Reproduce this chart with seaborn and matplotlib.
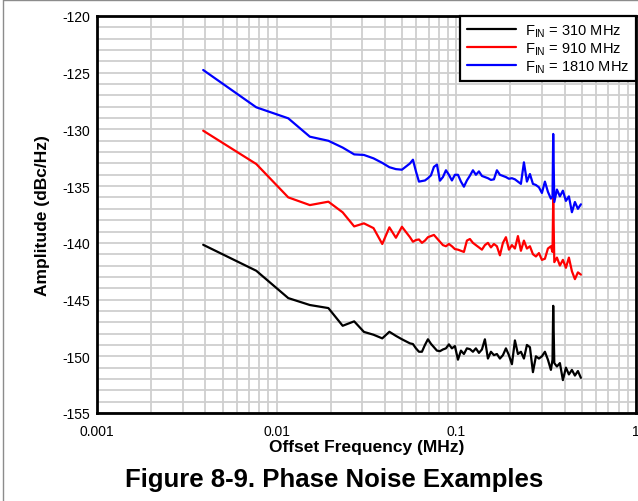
import numpy as np
import pandas as pd
import matplotlib
matplotlib.use("Agg")
import matplotlib.pyplot as plt
from matplotlib.lines import Line2D
from matplotlib.ticker import LogLocator, MultipleLocator, FixedLocator, FixedFormatter, NullFormatter
import seaborn as sns

# Offset frequency (MHz), shared by all three traces
freq = [
    0.0039, 0.0077, 0.0116, 0.0153, 0.0194, 0.0233, 0.0270, 0.0306, 0.0346, 0.0387, 0.0424, 0.0461, 0.0498,
    0.05518, 0.05734, 0.05960, 0.06193, 0.06435, 0.06688, 0.06950, 0.07222, 0.07505, 0.07798,
    0.08104, 0.08421, 0.08751, 0.09094, 0.09450, 0.09820, 0.1021, 0.1061, 0.1102, 0.1145,
    0.1190, 0.1237, 0.1285, 0.1336, 0.1388, 0.1442, 0.1499, 0.1558, 0.1619, 0.1682,
    0.1748, 0.1817, 0.1888, 0.1962, 0.2039, 0.2119, 0.2202, 0.2288, 0.2378, 0.2471,
    0.2568, 0.2669, 0.2773, 0.2882, 0.2994, 0.3112, 0.3234, 0.3360,
    0.343, 0.3461, 0.351,
    0.3629, 0.3771, 0.3918, 0.4073, 0.4232, 0.4398, 0.4571, 0.4750, 0.4935,
]

# Amplitude (dBc/Hz) for each input frequency
amp_310 = [
    -140.17, -142.46, -144.87, -145.48, -145.75, -147.31, -146.92, -147.85, -148.1, -148.42, -147.84, -148.2, -148.5,
    -148.86, -148.92, -149.3, -149.6, -149.6, -149.0, -148.5, -148.9, -149.2, -149.5,
    -149.55, -149.4, -149.3, -148.95, -149.3, -149.1, -150.3, -149.5, -149.8, -149.3,
    -149.37, -149.6, -149.3, -149.7, -149.4, -148.5, -150.2, -149.6, -149.9, -149.8,
    -150.2, -149.9, -149.3, -149.9, -150.7, -148.6, -149.8, -149.6, -150.2, -149.0,
    -149.2, -151.4, -150.0, -150.2, -150.0, -149.6, -150.3, -151.2,
    -150.3, -145.55, -150.6,
    -150.9, -150.6, -152.1, -151.0, -151.6, -151.2, -151.7, -151.3, -151.9,
]
amp_910 = [
    -130.11, -133.05, -135.99, -136.67, -136.37, -137.31, -138.55, -138.28, -138.7, -140.1, -138.63, -139.55, -138.58,
    -139.5, -139.9, -139.75, -139.7, -140.0, -139.8, -139.5, -139.4, -139.3, -139.6,
    -139.9, -140.2, -140.3, -140.1, -140.3, -140.55, -140.6, -140.7, -140.8, -139.8,
    -139.66, -140.0, -140.2, -140.4, -140.6, -140.2, -140.0, -140.4, -140.1, -140.3,
    -141.1, -140.0, -139.5, -140.6, -140.2, -140.5, -139.4, -140.7, -139.8, -140.5,
    -140.3, -141.0, -141.2, -140.9, -141.5, -141.4, -140.5, -140.3,
    -140.8, -136.1, -141.7,
    -141.3, -142.0, -141.5, -142.2, -141.3, -142.5, -143.2, -142.6, -142.8,
]
amp_1810 = [
    -124.76, -128.05, -129.02, -130.64, -131.0, -131.6, -132.2, -132.25, -132.55, -132.95, -133.33, -133.5, -133.55,
    -133.0, -132.67, -133.7, -134.6, -134.55, -134.5, -134.3, -134.05, -133.3, -133.1,
    -134.52, -134.2, -133.6, -134.0, -134.5, -134.0, -134.0, -134.6, -135.05, -134.5,
    -134.08, -133.6, -134.0, -133.7, -134.1, -134.2, -134.3, -134.45, -134.4, -133.6,
    -134.0, -134.1, -134.2, -134.35, -134.3, -134.4, -134.6, -134.8, -132.9, -134.6,
    -133.93, -134.8, -134.9, -135.1, -135.6, -134.6, -135.5, -136.1,
    -135.9, -130.4, -136.4,
    -135.3, -135.9, -135.4, -136.3, -135.9, -137.3, -136.4, -137.0, -136.6,
]

series_names = ["310", "910", "1810"]
series_colors = ["black", "red", "blue"]
legend_labels = [r"F$_{\mathrm{IN}}$ = %s MHz" % s for s in series_names]

df = pd.concat(
    [
        pd.DataFrame({"freq": freq, "amp": a, "fin": name})
        for name, a in zip(series_names, [amp_310, amp_910, amp_1810])
    ],
    ignore_index=True,
)

sns.set_theme(style="white")
plt.rcParams["font.family"] = ["Liberation Sans", "DejaVu Sans"]
plt.rcParams["mathtext.fontset"] = "custom"
plt.rcParams["mathtext.rm"] = "Liberation Sans"
plt.rcParams["mathtext.it"] = "Liberation Sans:italic"
plt.rcParams["mathtext.bf"] = "Liberation Sans:bold"
plt.rcParams["axes.unicode_minus"] = False
plt.rcParams["text.color"] = "black"
plt.rcParams["axes.labelcolor"] = "black"

fig = plt.figure(figsize=(6.38, 5.02), dpi=100)
ax = fig.add_axes([97 / 638, 88 / 502, 539 / 638, 397 / 502])

sns.lineplot(
    data=df, x="freq", y="amp", hue="fin", palette=series_colors,
    hue_order=series_names, sort=False, linewidth=1.6, ax=ax, legend=False,
)

ax.set_xscale("log")
ax.set_xlim(0.001, 1)
ax.set_ylim(-155, -120)

ax.xaxis.set_major_locator(FixedLocator([0.001, 0.01, 0.1, 1]))
ax.xaxis.set_major_formatter(FixedFormatter(["0.001", "0.01", "0.1", "1"]))
ax.xaxis.set_minor_locator(LogLocator(base=10, subs=np.arange(2, 10)))
ax.xaxis.set_minor_formatter(NullFormatter())
ax.yaxis.set_major_locator(MultipleLocator(5))
ax.yaxis.set_minor_locator(MultipleLocator(1))

ax.grid(True, which="both", color="#cfcfcf", linewidth=1.3)
ax.set_axisbelow(True)
for s in ax.spines.values():
    s.set_color("black")
    s.set_linewidth(2)

ax.tick_params(axis="both", which="both", length=0, labelsize=10, colors="black")
ax.tick_params(axis="x", pad=8)
ax.tick_params(axis="y", pad=5)

ax.set_xlabel("Offset Frequency (MHz)", fontsize=12.5, fontweight="bold", labelpad=1)
ax.set_ylabel("Amplitude (dBc/Hz)", fontsize=12.5, fontweight="bold", labelpad=9)

handles = [Line2D([0], [0], color=c, linewidth=1.6) for c in series_colors]
leg = ax.legend(
    handles, legend_labels, loc="upper right", fontsize=10.5, frameon=True,
    fancybox=False, handlelength=3.4, handletextpad=0.6, labelspacing=0.1,
    borderpad=0.45, borderaxespad=0,
)
leg.get_frame().set_edgecolor("black")
leg.get_frame().set_linewidth(1.6)
leg.get_frame().set_alpha(1)

fig.text(0.524, 0.043, "Figure 8-9. Phase Noise Examples", ha="center", va="center",
         fontsize=18.5, fontweight="bold", color="black")

# thin page border
fig.add_artist(Line2D([3 / 638, 3 / 638], [0, 1 - 1 / 502], transform=fig.transFigure,
                      color="#8c8c8c", linewidth=1))
fig.add_artist(Line2D([3 / 638, 1], [1 - 1 / 502, 1 - 1 / 502], transform=fig.transFigure,
                      color="#8c8c8c", linewidth=1))

fig.savefig("out.png", dpi=100)
